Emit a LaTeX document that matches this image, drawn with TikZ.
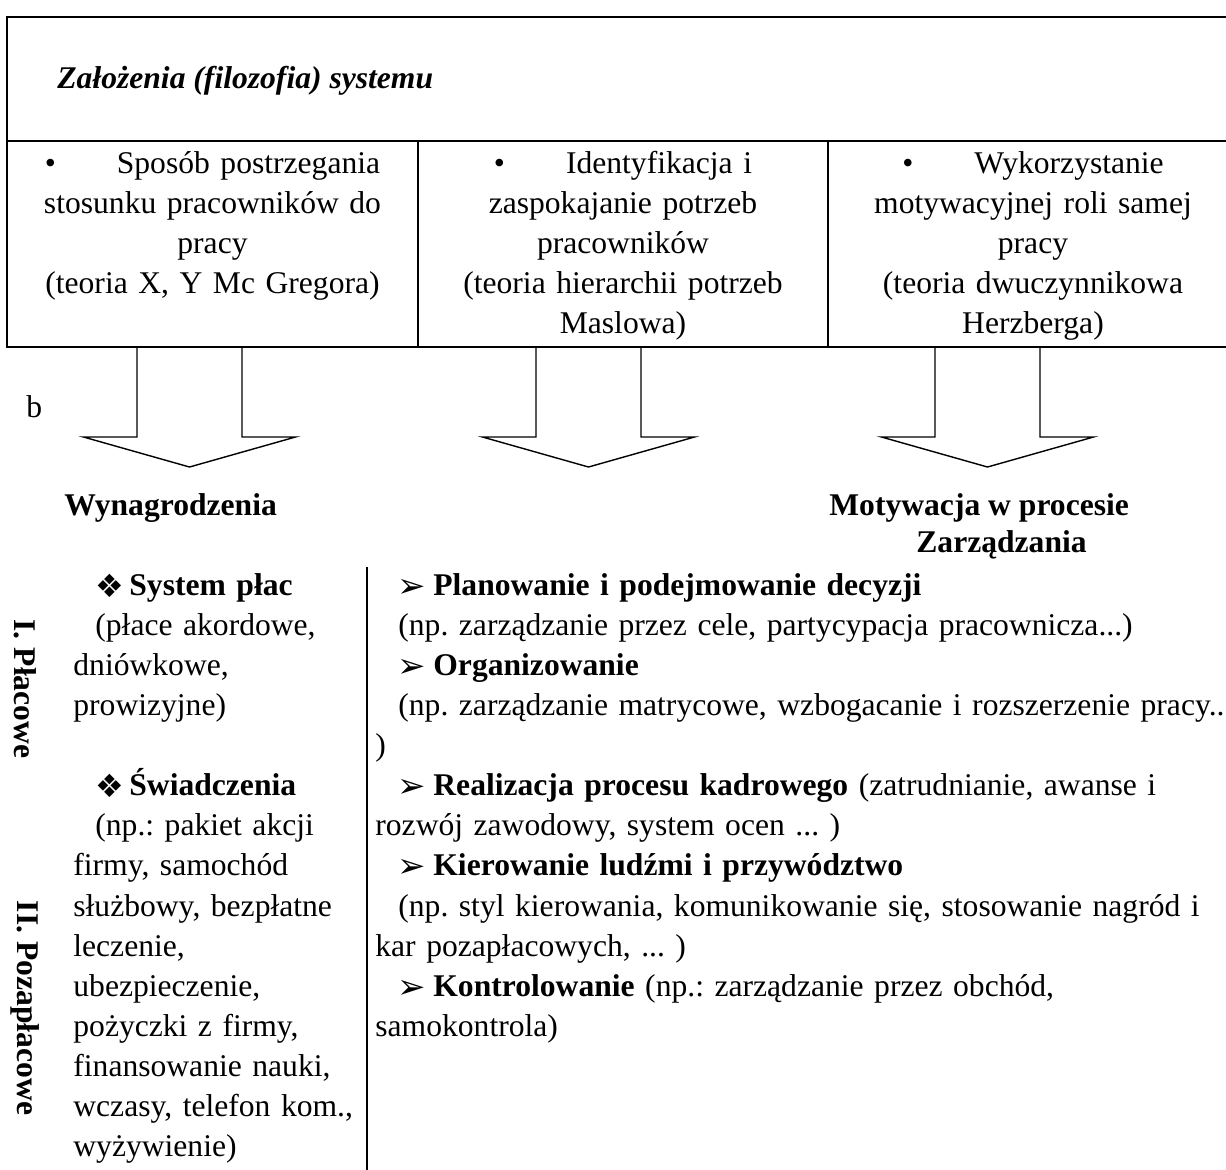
\documentclass[tikz,border=0pt]{standalone}
\usepackage{fontspec}
\setmainfont{Liberation Serif}
\newfontfamily\dingfont{DejaVu Sans}
\newcommand{\diamb}{\raisebox{-1pt}{\dingfont\fontsize{16}{16}\selectfont ❖}}
\newcommand{\arrb}{\raisebox{-1pt}{\dingfont\fontsize{17}{17}\selectfont ➢}}
\frenchspacing
\begin{document}
\begin{tikzpicture}[x=0.5pt,y=-0.5pt,
  frame/.style={line width=1.2pt},
  blockarrow/.style={line width=0.7pt, line join=miter},
  txt/.style={inner sep=0pt, font=\fontsize{15.8}{20}\selectfont},
  cell/.style={inner sep=0pt, font=\fontsize{15.8}{20}\selectfont, text width=200pt, align=center, anchor=base},
  col/.style={inner sep=0pt, font=\fontsize{15.8}{20.07}\selectfont, text width=480pt, align=left, anchor=base west},
  vlab/.style={inner sep=0pt, font=\fontsize{15.8}{20}\selectfont\bfseries, rotate=-90}
]
\useasboundingbox (0,0) rectangle (1226,1169);
\fill[white] (0,0) rectangle (1226,1169);

% frame of the header table
\draw[frame] (7,17) rectangle (1240,141);
\draw[frame] (7,141) rectangle (1240,347);
\draw[frame] (418,141) -- (418,347);
\draw[frame] (828,141) -- (828,347);

\node[txt, anchor=base west, font=\fontsize{15.8}{20}\selectfont\bfseries\itshape] (title) at (57,88) {Założenia (filozofia) systemu};

\node[cell] (c1) at (212.5,173) {•\hspace{30.5pt}Sposób postrzegania\\stosunku pracowników do\\pracy\\(teoria X, Y Mc Gregora)};
\node[cell] (c2) at (623,173) {•\hspace{30.5pt}Identyfikacja i\\zaspokajanie potrzeb\\pracowników\\(teoria hierarchii potrzeb\\Maslowa)};
\node[cell] (c3) at (1033,173) {•\hspace{30.5pt}Wykorzystanie\\motywacyjnej roli samej\\pracy\\(teoria dwuczynnikowa\\Herzberga)};

% block arrows
\foreach \cx in {189.5,588.5,987.5}{
  \draw[blockarrow] (\cx-52.5,347) -- (\cx-52.5,437) -- (\cx-106,437) -- (\cx,467) -- (\cx+106,437) -- (\cx+52.5,437) -- (\cx+52.5,347);
}

\node[txt, anchor=base west] (b) at (26,417) {b};

\node[txt, anchor=base west, font=\fontsize{15.8}{20}\selectfont\bfseries] (wyn) at (64,515) {Wynagrodzenia};
\node[txt, anchor=base west, font=\fontsize{15.8}{20}\selectfont\bfseries] (mot) at (829,515) {Motywacja w procesie};
\node[txt, anchor=base west, font=\fontsize{15.8}{20}\selectfont\bfseries] (zarz) at (916,552) {Zarządzania};

% separator
\coordinate (septop) at (367,567);
\coordinate (sepbot) at (367,1175);
\draw[frame] (septop) -- (sepbot);

% vertical labels
\node[vlab] (plac) at (25,689) {I. Płacowe};
\node[vlab] (pozaplac) at (25,1008) {II. Pozapłacowe};

% left column
\node[col] (left) at (73,595) {%
\hspace*{11pt}\makebox[17pt][l]{\diamb}\textbf{System płac}\\
\hspace*{11pt}(płace akordowe,\\
dniówkowe,\\
prowizyjne)\\[20.07pt]
\hspace*{11pt}\makebox[17pt][l]{\diamb}\textbf{Świadczenia}\\
\hspace*{11pt}(np.: pakiet akcji\\
firmy, samochód\\
służbowy, bezpłatne\\
leczenie,\\
ubezpieczenie,\\
pożyczki z firmy,\\
finansowanie nauki,\\
wczasy, telefon kom.,\\
wyżywienie)};

% right column
\node[col] (right) at (375,595) {%
\hspace*{11pt}\makebox[18pt][l]{\arrb}\textbf{Planowanie i podejmowanie decyzji}\\
\hspace*{11.5pt}(np. zarządzanie przez cele, partycypacja pracownicza...)\\
\hspace*{11pt}\makebox[18pt][l]{\arrb}\textbf{Organizowanie}\\
\hspace*{11.5pt}(np. zarządzanie matrycowe, wzbogacanie i rozszerzenie pracy..\\
)\\
\hspace*{11pt}\makebox[18pt][l]{\arrb}\textbf{Realizacja procesu kadrowego} (zatrudnianie, awanse i\\
rozwój zawodowy, system ocen ... )\\
\hspace*{11pt}\makebox[18pt][l]{\arrb}\textbf{Kierowanie ludźmi i przywództwo}\\
\hspace*{11.5pt}(np. styl kierowania, komunikowanie się, stosowanie nagród i\\
kar pozapłacowych, ... )\\
\hspace*{11pt}\makebox[18pt][l]{\arrb}\textbf{Kontrolowanie} (np.: zarządzanie przez obchód,\\
samokontrola)};
\end{tikzpicture}
\end{document}
